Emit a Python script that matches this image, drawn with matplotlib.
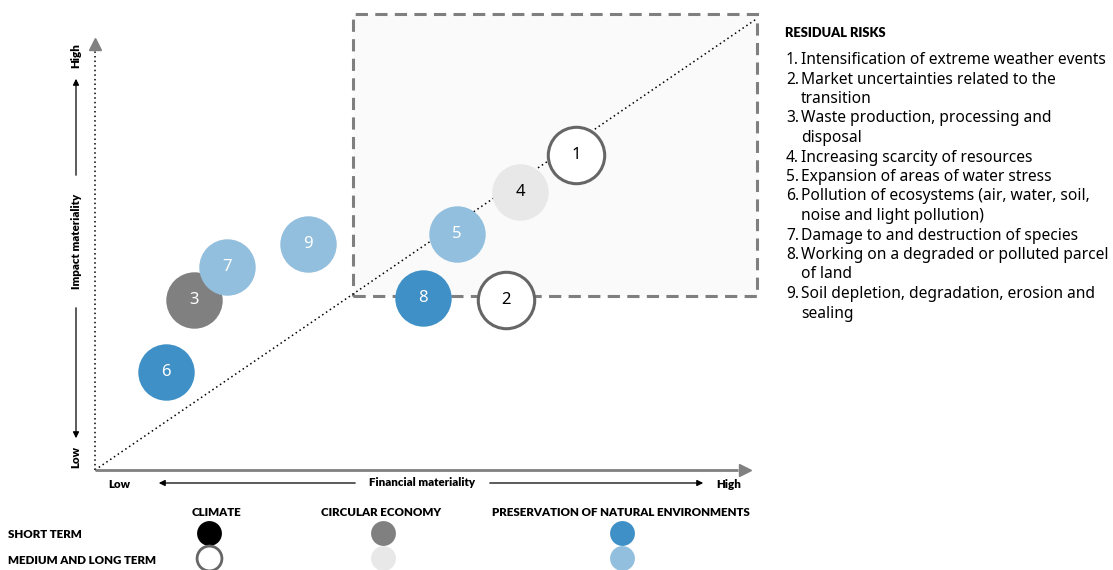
import matplotlib
matplotlib.use("Agg")
import matplotlib.pyplot as plt
from matplotlib.patches import Rectangle

plt.rcParams['font.family'] = ['Noto Sans', 'DejaVu Sans']

# ---------------- data ----------------
risk_ids = [1, 2, 3, 4, 5, 6, 7, 8, 9]
financial = [7.27, 6.21, 1.50, 6.42, 5.47, 1.07, 1.99, 4.95, 3.22]
impact = [6.91, 3.73, 3.73, 6.10, 5.18, 2.15, 4.45, 3.77, 4.96]
theme = ['climate', 'climate', 'circular', 'circular', 'nature',
         'nature', 'nature', 'nature', 'nature']
horizon = ['medium', 'medium', 'short', 'medium', 'medium',
           'short', 'medium', 'short', 'medium']
risk_labels = [
    ["Intensification of extreme weather events"],
    ["Market uncertainties related to the", "transition"],
    ["Waste production, processing and", "disposal"],
    ["Increasing scarcity of resources"],
    ["Expansion of areas of water stress"],
    ["Pollution of ecosystems (air, water, soil,", "noise and light pollution)"],
    ["Damage to and destruction of species"],
    ["Working on a degraded or polluted parcel", "of land"],
    ["Soil depletion, degradation, erosion and", "sealing"],
]
theme_names = {'climate': 'CLIMATE', 'circular': 'CIRCULAR ECONOMY',
               'nature': 'PRESERVATION OF NATURAL ENVIRONMENTS'}
theme_order = ['climate', 'circular', 'nature']
horizon_names = {'short': 'SHORT TERM', 'medium': 'MEDIUM AND LONG TERM'}
horizon_order = ['short', 'medium']
residual_zone = (3.9, 3.82, 10.0, 10.0)  # x0, y0, x1, y1

# ---------------- styles ----------------
fill = {('climate', 'short'): '#000000', ('climate', 'medium'): '#ffffff',
        ('circular', 'short'): '#808080', ('circular', 'medium'): '#e8e8e8',
        ('nature', 'short'): '#3f90c6', ('nature', 'medium'): '#91bfdd'}
edge = {('climate', 'medium'): '#666666'}
txtcol = {('climate', 'short'): 'white', ('climate', 'medium'): 'black',
          ('circular', 'short'): 'white', ('circular', 'medium'): 'black',
          ('nature', 'short'): 'white', ('nature', 'medium'): 'white'}

W, H = 1113, 570
fig = plt.figure(figsize=(W / 100, H / 100), dpi=100)

# overlay axes in pixel coordinates for annotations
ov = fig.add_axes([0, 0, 1, 1])
ov.set_xlim(0, W)
ov.set_ylim(H, 0)
ov.axis('off')

# main chart axes
x0p, y0p, x1p, y1p = 95, 470, 757, 14
ax = fig.add_axes([x0p / W, (H - y0p) / H, (x1p - x0p) / W, (y0p - y1p) / H])
ax.set_xlim(0, 10)
ax.set_ylim(0, 10)
ax.axis('off')
ax.patch.set_alpha(0)

# residual zone box
bx0, by0, bx1, by1 = residual_zone
ax.add_patch(Rectangle((bx0, by0), bx1 - bx0, by1 - by0, facecolor='#fafafa',
                       edgecolor='#7f7f7f', linewidth=2.2, linestyle=(0, (4, 2.4)),
                       zorder=1, clip_on=False))
# diagonal
ax.plot([0, 10], [0, 9.9], color='black', linewidth=1.1, linestyle=(0, (1, 2)),
        zorder=2, clip_on=False)
# y axis (dotted) + arrowhead
ax.plot([0, 0], [0, 9.25], color='black', linewidth=1.1, linestyle=(0, (1, 2)),
        zorder=2, clip_on=False)
ax.plot([0], [9.35], marker='^', markersize=9, color='#808080', clip_on=False, zorder=3)
# x axis
ax.plot([0, 9.72], [0, 0], color='#808080', linewidth=2, zorder=2, clip_on=False,
        solid_capstyle='butt')
ax.plot([9.82], [0], marker='>', markersize=9, color='#808080', clip_on=False, zorder=3)

# bubbles
for i, rid in enumerate(risk_ids):
    key = (theme[i], horizon[i])
    ec = edge.get(key, fill[key])
    ax.scatter(financial[i], impact[i], s=1650, color=fill[key], edgecolors=ec,
               linewidths=2.2 if key in edge else 0, zorder=5, clip_on=False)
    ax.text(financial[i], impact[i], str(rid), ha='center', va='center',
            fontsize=12, color=txtcol[key], zorder=6)

# ---- axis titles ----
bold = dict(fontsize=8.3, fontweight='heavy', color='black', family=['Lato', 'DejaVu Sans'])
ov.text(76, 56, 'High', rotation=90, ha='center', va='center', **bold)
ov.text(76, 457, 'Low', rotation=90, ha='center', va='center', **bold)
ov.text(76, 241, 'Impact materiality', rotation=90, ha='center', va='center', **bold)
arrowp = dict(arrowstyle='-|>', color='black', linewidth=0.9, mutation_scale=9)
ov.annotate('', xy=(76, 76), xytext=(76, 178), arrowprops=arrowp)
ov.annotate('', xy=(76, 441), xytext=(76, 305), arrowprops=arrowp)

ov.text(119, 484, 'Low', ha='center', va='center', **bold)
ov.text(729, 485, 'High', ha='center', va='center', **bold)
ov.text(422, 483, 'Financial materiality', ha='center', va='center', **bold)
ov.annotate('', xy=(156, 483), xytext=(358, 483), arrowprops=arrowp)
ov.annotate('', xy=(706, 483), xytext=(487, 483), arrowprops=arrowp)

# ---- legend ----
col_x = {'climate': 209, 'circular': 383, 'nature': 622}
row_y = {'short': 533, 'medium': 558}
for t in theme_order:
    ov.text(col_x[t] + (7 if t == 'climate' else -2 if t == 'circular' else -1), 512,
            theme_names[t], ha='center', va='center', **bold)
for h in horizon_order:
    ov.text(8, row_y[h] + 2, horizon_names[h], ha='left', va='center', **bold)
    for t in theme_order:
        key = (t, h)
        ov.scatter(col_x[t], row_y[h], s=320, color=fill[key],
                   edgecolors=edge.get(key, fill[key]),
                   linewidths=2 if key in edge else 0, clip_on=False)

# ---- residual risks list ----
ov.text(785, 33, 'RESIDUAL RISKS', ha='left', va='center', fontsize=9.3,
        fontweight='heavy', family=['Lato', 'DejaVu Sans'])
y = 60
dy = 19.5
for rid, lines in zip(risk_ids, risk_labels):
    ov.text(786, y, f'{rid}.', ha='left', va='center', fontsize=11.2)
    for line in lines:
        ov.text(801, y, line, ha='left', va='center', fontsize=11.2)
        y += dy

fig.savefig('out.png', dpi=100)
